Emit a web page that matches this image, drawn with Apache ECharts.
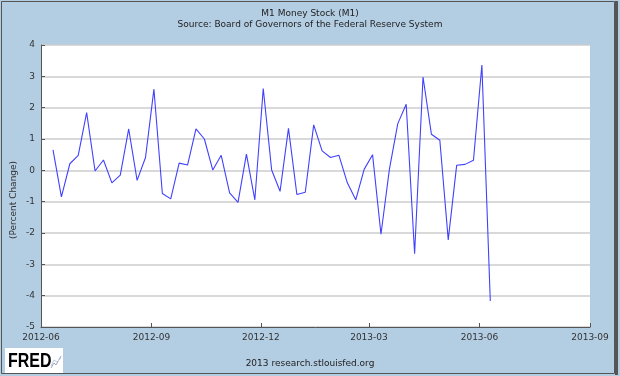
<!DOCTYPE html>
<html>
<head>
<meta charset="utf-8">
<script src="https://cdn.jsdelivr.net/npm/echarts@6/dist/echarts.min.js"></script>
<style>
  html, body { margin: 0; padding: 0; background: #b3cde3; }
  #main { width: 620px; height: 376px; }
</style>
</head>
<body>
<div id="main"></div>
<script>
// weekly dates (Mondays)
var weekDates = [
  '2012-06-11', '2012-06-18', '2012-06-25', '2012-07-02', '2012-07-09', '2012-07-16',
  '2012-07-23', '2012-07-30', '2012-08-06', '2012-08-13', '2012-08-20', '2012-08-27',
  '2012-09-03', '2012-09-10', '2012-09-17', '2012-09-24', '2012-10-01', '2012-10-08',
  '2012-10-15', '2012-10-22', '2012-10-29', '2012-11-05', '2012-11-12', '2012-11-19',
  '2012-11-26', '2012-12-03', '2012-12-10', '2012-12-17', '2012-12-24', '2012-12-31',
  '2013-01-07', '2013-01-14', '2013-01-21', '2013-01-28', '2013-02-04', '2013-02-11',
  '2013-02-18', '2013-02-25', '2013-03-04', '2013-03-11', '2013-03-18', '2013-03-25',
  '2013-04-01', '2013-04-08', '2013-04-15', '2013-04-22', '2013-04-29', '2013-05-06',
  '2013-05-13', '2013-05-20', '2013-05-27', '2013-06-03', '2013-06-10'
];
// M1 percent change
var pctChange = [
  0.65, -0.85, 0.21, 0.48, 1.84, -0.02,
  0.33, -0.40, -0.15, 1.32, -0.32, 0.41,
  2.59, -0.74, -0.91, 0.23, 0.17, 1.32,
  1.00, 0.01, 0.48, -0.72, -1.02, 0.52,
  -0.94, 2.61, 0.01, -0.67, 1.34, -0.77,
  -0.70, 1.45, 0.62, 0.41, 0.48, -0.40,
  -0.94, 0.03, 0.50, -2.04, 0.03, 1.49,
  2.11, -2.66, 2.98, 1.15, 0.96, -2.22,
  0.16, 0.19, 0.32, 3.36, -4.17
];
var xTickDates = ['2012-06-01', '2012-09-01', '2012-12-01', '2013-03-01', '2013-06-01', '2013-09-01'];
var yMin = -5, yMax = 4;

function ts(s) { return echarts.number.parseDate(s).getTime(); }
function pad(n) { return n < 10 ? '0' + n : '' + n; }

var seriesData = [];
for (var i = 0; i < weekDates.length; i++) {
  seriesData.push([ts(weekDates[i]), pctChange[i]]);
}
var tickValues = xTickDates.map(ts);

var font = 'DejaVu Sans';
var chart = echarts.init(document.getElementById('main'));
var option = {
  backgroundColor: '#b3cde3',
  animation: false,
  title: {
    text: 'M1 Money Stock (M1)',
    subtext: 'Source: Board of Governors of the Federal Reserve System',
    left: 'center',
    top: 4,
    itemGap: 2,
    textStyle: { fontFamily: font, fontSize: 9, fontWeight: 'normal', color: '#222' },
    subtextStyle: { fontFamily: font, fontSize: 9, color: '#222' }
  },
  grid: {
    left: 41, right: 30, top: 45, bottom: 49,
    show: true, backgroundColor: '#ffffff', borderWidth: 0
  },
  xAxis: {
    type: 'value',
    min: tickValues[0],
    max: tickValues[tickValues.length - 1],
    axisLine: { onZero: false, lineStyle: { color: '#555', width: 1 } },
    axisTick: { inside: true, length: 4, customValues: tickValues, lineStyle: { color: '#555' } },
    axisLabel: {
      customValues: tickValues,
      showMinLabel: true, showMaxLabel: true,
      fontFamily: font, fontSize: 9, color: '#333', margin: 6,
      formatter: function (v) {
        var d = new Date(v);
        return d.getFullYear() + '-' + pad(d.getMonth() + 1);
      }
    },
    splitLine: { show: false }
  },
  yAxis: {
    type: 'value',
    min: yMin, max: yMax, interval: 1,
    axisLine: { show: true, lineStyle: { color: '#555', width: 1 } },
    axisTick: { show: true, inside: true, length: 4, lineStyle: { color: '#555' } },
    axisLabel: { fontFamily: font, fontSize: 9, color: '#333', margin: 6 },
    splitLine: { lineStyle: { color: '#cccccc', width: 1.5 } }
  },
  series: [{
    name: 'M1',
    type: 'line',
    data: seriesData,
    symbol: 'none',
    lineStyle: { color: '#4040ff', width: 1.1 }
  }],
  graphic: [
    { type: 'rect', shape: { x: 1.5, y: 1.5, width: 613, height: 372 },
      style: { fill: 'none', stroke: '#555', lineWidth: 1 } },
    { type: 'rect', shape: { x: 615, y: 1, width: 3, height: 374 },
      style: { fill: '#555' } },
    { type: 'text', x: 14, y: 200, rotation: Math.PI / 2,
      style: { text: '(Percent Change)', fontFamily: font, fontSize: 9, fill: '#333',
               textAlign: 'center', textVerticalAlign: 'middle' } },
    { type: 'rect', shape: { x: 5, y: 348, width: 58, height: 25 },
      style: { fill: '#ffffff' } },
    { type: 'text', x: 8, y: 361, scaleX: 0.76,
      style: { text: 'FRED', fontFamily: 'Liberation Sans', fontWeight: 'bold', fontSize: 21,
               fill: '#000', textVerticalAlign: 'middle' } },
    { type: 'polyline', shape: { points: [[51, 368], [54, 363], [56, 365], [61, 356]] },
      style: { stroke: '#9aa8c8', lineWidth: 1, fill: 'none' } },
    { type: 'polyline', shape: { points: [[51, 366], [54, 360], [57, 362], [61, 358]] },
      style: { stroke: '#c0c8dc', lineWidth: 1, fill: 'none' } },
    { type: 'text', x: 310, y: 364,
      style: { text: '2013 research.stlouisfed.org', fontFamily: font, fontSize: 9, fill: '#222',
               textAlign: 'center', textVerticalAlign: 'middle' } }
  ]
};
chart.setOption(option);
</script>
</body>
</html>
